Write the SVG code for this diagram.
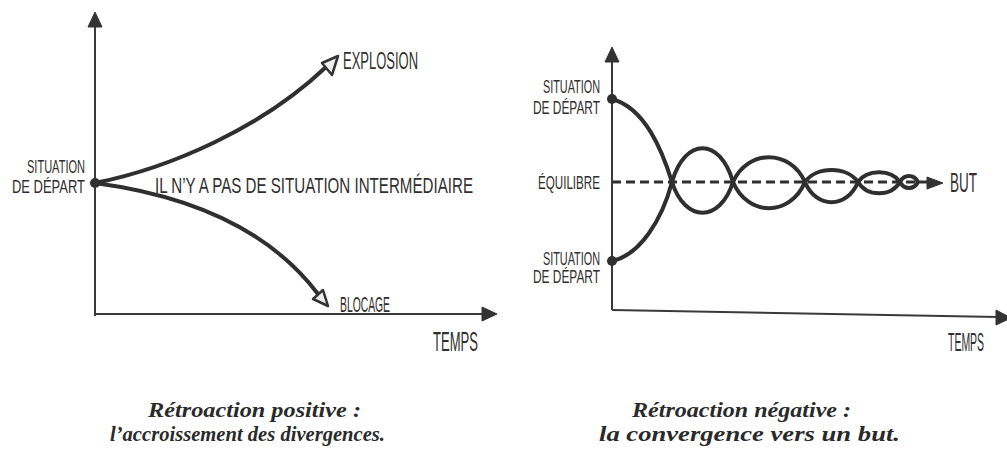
<svg xmlns="http://www.w3.org/2000/svg" width="1007" height="450" viewBox="0 0 1007 450">
<style>
.bg{fill:#ffffff}
.axis{fill:none;stroke:#3a3a3a;stroke-width:2}
.curve{fill:none;stroke:#2f2f2f;stroke-width:4;stroke-linecap:round}
.dash{fill:none;stroke:#2f2f2f;stroke-width:3.2;stroke-dasharray:9 5}
.head{fill:#333333;stroke:#333333;stroke-width:1;stroke-linejoin:round}
.open{fill:#eeeeee;stroke:#333333;stroke-width:2.5;stroke-linejoin:round}
.dot{fill:#2f2f2f}
.lbl{font-family:"Liberation Sans",Arial,sans-serif;fill:#2f2f2f}
.cap{font-family:"Liberation Serif","Times New Roman",serif;font-style:italic;font-weight:bold;font-size:21px;fill:#2a2a2a}
</style>
<rect class="bg" x="0" y="0" width="1007" height="450"/>

<g id="left-axes">
<line class="axis" x1="95" y1="316" x2="95" y2="26"/>
<polygon class="head" points="88,27 95,12 102,27"/>
<line class="axis" x1="95" y1="314" x2="484" y2="314"/>
<polygon class="head" points="482,307 497,314 482,321"/>
</g>

<g id="connectors-left">
<path class="curve" d="M95,183 C170,168 262,128 326,67"/>
<polygon class="open" points="338,56 322,63 332,75"/>
<path class="curve" d="M95,183 C170,193 262,220 318,294"/>
<polygon class="open" points="328,306 313,299 323,290"/>
<circle class="dot" cx="95" cy="183" r="5"/>
</g>

<g id="left-labels">
<text class="lbl" x="27" y="173" font-size="19" textLength="58" lengthAdjust="spacingAndGlyphs">SITUATION</text>
<text class="lbl" x="12" y="193" font-size="19" textLength="73" lengthAdjust="spacingAndGlyphs">DE  DÉPART</text>
<text class="lbl" x="155" y="193" font-size="22" textLength="318" lengthAdjust="spacingAndGlyphs">IL N’Y A PAS DE SITUATION INTERMÉDIAIRE</text>
<text class="lbl" x="343" y="69" font-size="24" textLength="75" lengthAdjust="spacingAndGlyphs">EXPLOSION</text>
<text class="lbl" x="340" y="312" font-size="22" textLength="50" lengthAdjust="spacingAndGlyphs">BLOCAGE</text>
<text class="lbl" x="433" y="351" font-size="27" textLength="45" lengthAdjust="spacingAndGlyphs">TEMPS</text>
</g>

<g id="right-axes">
<line class="axis" x1="612" y1="310" x2="612" y2="62"/>
<polygon class="head" points="605,62 612,47 619,62"/>
<line class="axis" x1="612" y1="310" x2="998" y2="317"/>
<polygon class="head" points="996,310 1011,318 996,325"/>
</g>

<g id="connectors-right">
<line class="dash" x1="612" y1="182" x2="930" y2="182"/>
<polygon class="head" points="927,177 943,183 927,189"/>
<path class="curve" d="M612,99 C645,108 662,150 672,182 C685,223 720,223 733,182 C748,149 790,149 805,182 C816,209 847,209 858,182 C867,169 891,169 900,182 C904,190 914,190 918,182"/>
<path class="curve" d="M612,261 C640,255 662,220 672,182 C685,137 720,137 733,182 C748,217 790,217 805,182 C816,166 847,166 858,182 C867,197 891,197 900,182 C904,174 914,174 918,182"/>
<circle class="dot" cx="612" cy="99" r="5"/>
<circle class="dot" cx="612" cy="261" r="5"/>
</g>

<g id="right-labels">
<text class="lbl" x="543" y="93" font-size="18" textLength="57" lengthAdjust="spacingAndGlyphs">SITUATION</text>
<text class="lbl" x="533" y="114" font-size="18" textLength="67" lengthAdjust="spacingAndGlyphs">DE DÉPART</text>
<text class="lbl" font-size="18" transform="translate(538,189) scale(0.646,1)">ÉQUILIBRE</text>
<text class="lbl" x="543" y="265" font-size="18" textLength="57" lengthAdjust="spacingAndGlyphs">SITUATION</text>
<text class="lbl" x="533" y="283" font-size="18" textLength="67" lengthAdjust="spacingAndGlyphs">DE DÉPART</text>
<text class="lbl" x="950" y="192" font-size="27" textLength="27" lengthAdjust="spacingAndGlyphs">BUT</text>
<text class="lbl" font-size="26" transform="translate(948,351) scale(0.403,1)">TEMPS</text>
</g>

<g id="captions">
<text class="cap" x="148" y="417" textLength="213" lengthAdjust="spacingAndGlyphs">Rétroaction positive :</text>
<text class="cap" x="110" y="441" textLength="275" lengthAdjust="spacingAndGlyphs">l’accroissement des divergences.</text>
<text class="cap" x="632" y="417" textLength="219" lengthAdjust="spacingAndGlyphs">Rétroaction négative :</text>
<text class="cap" x="599" y="441" textLength="301" lengthAdjust="spacingAndGlyphs">la convergence vers un but.</text>
</g>
</svg>
